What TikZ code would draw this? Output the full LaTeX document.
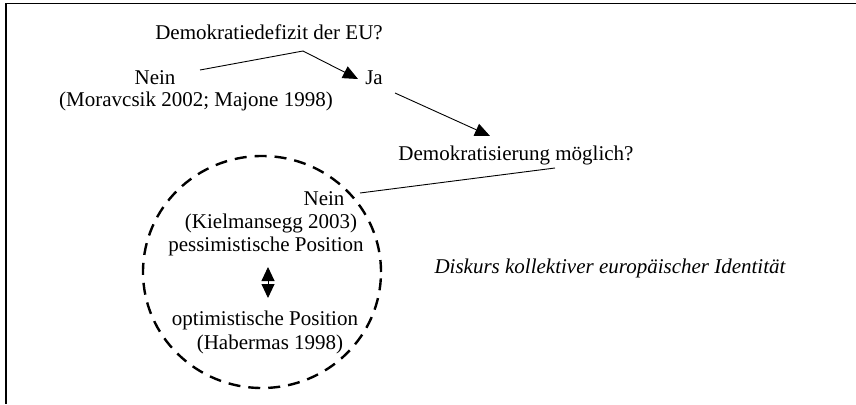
\documentclass[tikz,border=0pt]{standalone}
\usepackage{fontspec}
\setmainfont{Liberation Serif}
\usetikzlibrary{arrows.meta,shapes.geometric}
\begin{document}
\begin{tikzpicture}[x=1pt,y=-1pt,
  lbl/.style={inner sep=0pt,font=\fontsize{21}{25}\selectfont},
  conn/.style={line width=0.9pt},
  arr/.style={conn,-{Triangle[length=15pt,width=13pt]}},
  frame/.style={line width=1.4pt}]
\useasboundingbox (0,0) rectangle (856,404);
\draw[frame] (856,3.5) -- (6,3.5) -- (6,404);
% top
\node[lbl] (q1) at (269,32) {Demokratiedefizit der EU?};
\node[lbl] (nein1) at (155,78) {Nein};
\node[lbl] (mor) at (196,101) {(Moravcsik 2002; Majone 1998)};
\node[lbl] (ja) at (374,78) {Ja};
\coordinate (v1) at (303,51);
\coordinate (n1s) at (200,70);
\coordinate (ja1) at (358,79);
\draw[conn] (n1s) -- (v1);
\draw[arr] (v1) -- (ja1);
\coordinate (jas) at (395,93);
\coordinate (q2e) at (490,136);
\draw[arr] (jas) -- (q2e);
\node[lbl] (q2) at (516,155) {Demokratisierung möglich?};
\coordinate (q2s) at (555,168);
\coordinate (n2e) at (360,193);
\draw[conn] (q2s) -- (n2e);
% circle
\node[draw,dash pattern=on 12pt off 8pt,line width=2.4pt,ellipse,minimum width=238pt,minimum height=232pt,inner sep=0pt] (circ) at (262,272) {};
\node[lbl] (nein2) at (324,199) {Nein};
\node[lbl] (kiel) at (271,223) {(Kielmansegg 2003)};
\node[lbl] (pess) at (266,246) {pessimistische Position};
\node[lbl] (opt) at (265,320) {optimistische Position};
\node[lbl] (hab) at (270,344) {(Habermas 1998)};
\coordinate (da) at (268,267);
\coordinate (db) at (268,298);
\draw[conn,{Triangle[length=14pt,width=13pt]}-{Triangle[length=14pt,width=13pt]}] (da) -- (db);
\node[lbl,font=\fontsize{21}{25}\selectfont\itshape] (disk) at (610,268) {Diskurs kollektiver europäischer Identität};
\end{tikzpicture}
\end{document}
